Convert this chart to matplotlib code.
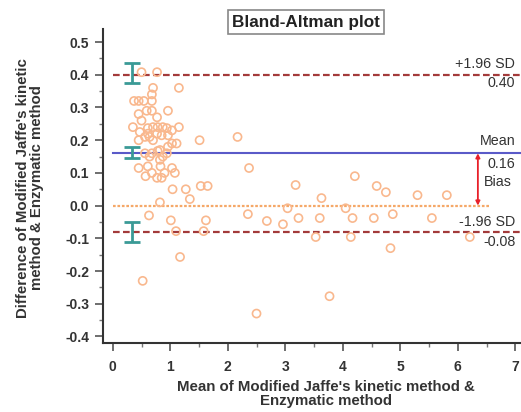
import matplotlib
matplotlib.use("Agg")
import matplotlib.pyplot as plt
import numpy as np

plt.rcParams['font.family'] = ['Liberation Sans', 'DejaVu Sans']

# Scatter data: mean of methods (x) vs difference (y)
mean_vals = [0.50, 0.77, 0.70, 1.15, 0.68, 0.37, 0.45, 0.54, 0.68, 0.96,
             0.45, 0.59, 0.68, 0.50, 0.77, 0.35, 0.47, 0.61, 0.70, 0.78,
             0.87, 0.94, 1.03, 1.15, 0.61, 0.77, 0.45, 0.56, 0.64, 0.70,
             0.85, 0.96, 1.03, 1.11, 0.96, 1.51, 2.17, 0.56, 0.64, 0.82,
             0.87, 0.82, 0.68, 0.78, 0.94, 0.45, 0.61, 0.83, 0.68, 0.57,
             0.90, 1.08, 1.03, 0.77, 0.85, 2.37, 1.04, 1.27, 1.53, 1.65,
             1.34, 0.82, 0.63, 1.01, 1.62, 2.35, 1.10, 1.58, 1.17, 0.52,
             2.50, 2.68, 2.96, 3.04, 3.18, 3.23, 3.53, 3.60, 3.63, 3.77,
             4.05, 4.14, 4.17, 4.21, 4.54, 4.59, 4.75, 4.83, 4.87, 5.30,
             5.81, 5.55, 6.21]
diff_vals = [0.408, 0.408, 0.36, 0.36, 0.34, 0.32, 0.32, 0.32, 0.32, 0.29,
             0.28, 0.29, 0.29, 0.26, 0.27, 0.24, 0.225, 0.237, 0.24, 0.24,
             0.24, 0.237, 0.23, 0.24, 0.22, 0.22, 0.20, 0.21, 0.21, 0.20,
             0.215, 0.215, 0.19, 0.19, 0.18, 0.20, 0.21, 0.16, 0.15, 0.17,
             0.15, 0.14, 0.16, 0.167, 0.16, 0.115, 0.12, 0.12, 0.10, 0.09,
             0.10, 0.10, 0.115, 0.085, 0.085, 0.115, 0.05, 0.05, 0.06, 0.06,
             0.02, 0.01, -0.03, -0.045, -0.045, -0.026, -0.078, -0.078, -0.157, -0.23,
             -0.33, -0.047, -0.057, -0.008, 0.063, -0.038, -0.096, -0.038, 0.023, -0.277,
             -0.008, -0.096, -0.038, 0.09, -0.038, 0.06, 0.041, -0.13, -0.026, 0.032,
             0.032, -0.038, -0.096]

bias = 0.16
upper_loa = 0.40
lower_loa = -0.08
zero_line = 0.0

# Confidence intervals (teal error bars)
ci_x = 0.33
ci_low = [0.375, 0.145, -0.11]
ci_high = [0.436, 0.179, -0.05]

arrow_x = 6.35
zero_end = 6.55

xticks = [0, 1, 2, 3, 4, 5, 6, 7]
yticks = [-0.4, -0.3, -0.2, -0.1, 0.0, 0.1, 0.2, 0.3, 0.4, 0.5]
ytick_labels = ['-0.4', '-0.3', '-0.2', '-0.1', '0.0', '0.1', '0.2', '0.3', '0.4', '0.5']

W, H = 521, 412
fig = plt.figure(figsize=(W / 100, H / 100), dpi=100)
ax = fig.add_axes([103 / W, (H - 343) / H, (W - 103) / W, (343 - 29) / H])
ax.set_xlim(-0.17, 7.1)
ax.set_ylim(-0.42, 0.54)

txt = '#333333'

# reference lines
ax.plot([0, 7.1], [upper_loa, upper_loa], color='#a33a3a', lw=1.6, ls=(0, (3, 1.5)), zorder=2)
ax.plot([0, 7.1], [lower_loa, lower_loa], color='#a33a3a', lw=1.6, ls=(0, (3, 1.5)), zorder=2)
ax.plot([0, 7.1], [bias, bias], color='#5a5ac8', lw=1.5, zorder=2)
ax.plot([0, zero_end], [zero_line, zero_line], color='#f5a868', lw=1.6, ls=(0, (1.2, 0.8)), zorder=2)

# scatter
ax.scatter(mean_vals, diff_vals, s=34, facecolors='none', edgecolors='#f9b88e', linewidths=1.2, zorder=3)

# CI error bars
for lo, hi in zip(ci_low, ci_high):
    ax.errorbar([ci_x], [(lo + hi) / 2], yerr=[[(hi - lo) / 2], [(hi - lo) / 2]],
                fmt='none', ecolor='#3a9a96', elinewidth=2, capsize=5.5, capthick=2, zorder=4)

# bias arrow
ax.annotate('', xy=(arrow_x, zero_line), xytext=(arrow_x, bias),
            arrowprops=dict(arrowstyle='<|-|>', color='#e8202a', lw=1.3,
                            mutation_scale=6, shrinkA=0, shrinkB=0), zorder=5)

# right side labels
fs = 10.3
ax.text(7.0, 0.433, '+1.96 SD', ha='right', va='center', fontsize=fs, color=txt)
ax.text(7.0, 0.375, '%.2f' % upper_loa, ha='right', va='center', fontsize=fs, color=txt)
ax.text(7.0, 0.197, 'Mean', ha='right', va='center', fontsize=fs, color=txt)
ax.text(7.0, 0.127, '%.2f' % bias, ha='right', va='center', fontsize=fs, color=txt)
ax.text(6.45, 0.072, 'Bias', ha='left', va='center', fontsize=fs, color=txt)
ax.text(7.0, -0.05, '-1.96 SD', ha='right', va='center', fontsize=fs, color=txt)
ax.text(7.0, -0.112, '%.2f' % lower_loa, ha='right', va='center', fontsize=fs, color=txt)

# axes styling
for side in ['top', 'right']:
    ax.spines[side].set_visible(False)
for side in ['left', 'bottom']:
    ax.spines[side].set_color('#333333')
    ax.spines[side].set_linewidth(1.5)
ax.set_xticks(xticks)
ax.set_xticks(np.arange(0.5, 7, 1), minor=True)
ax.set_yticks(yticks)
ax.set_yticklabels(ytick_labels)
ax.set_yticks(np.arange(-0.35, 0.5, 0.1), minor=True)
ax.tick_params(axis='both', which='major', direction='out', length=6, width=1.2,
               color='#555555', labelsize=10, labelcolor=txt)
ax.tick_params(axis='both', which='minor', direction='out', length=3, width=1.0, color='#777777')
for lab in ax.get_xticklabels() + ax.get_yticklabels():
    lab.set_fontweight('bold')
ax.tick_params(axis='x', pad=6)
ax.tick_params(axis='y', pad=4)

# axis labels
fig.text(326 / W, (H - 394) / H, "Mean of Modified Jaffe's kinetic method &\nEnzymatic method",
         ha='center', va='center', fontsize=10.8, fontweight='bold', color=txt, linespacing=1.05)
fig.text(30 / W, (H - 188) / H, "Difference of Modified Jaffe's kinetic\nmethod & Enzymatic method",
         ha='center', va='center', rotation=90, fontsize=10.8, fontweight='bold', color=txt,
         linespacing=1.05)

# title box
fig.text(306 / W, (H - 22) / H, 'Bland-Altman plot', ha='center', va='center', fontsize=12.3,
         fontweight='bold', color='#222222',
         bbox=dict(boxstyle='square,pad=0.25', facecolor='white', edgecolor='#888888', lw=1.2))

fig.savefig('out.png', dpi=100)
